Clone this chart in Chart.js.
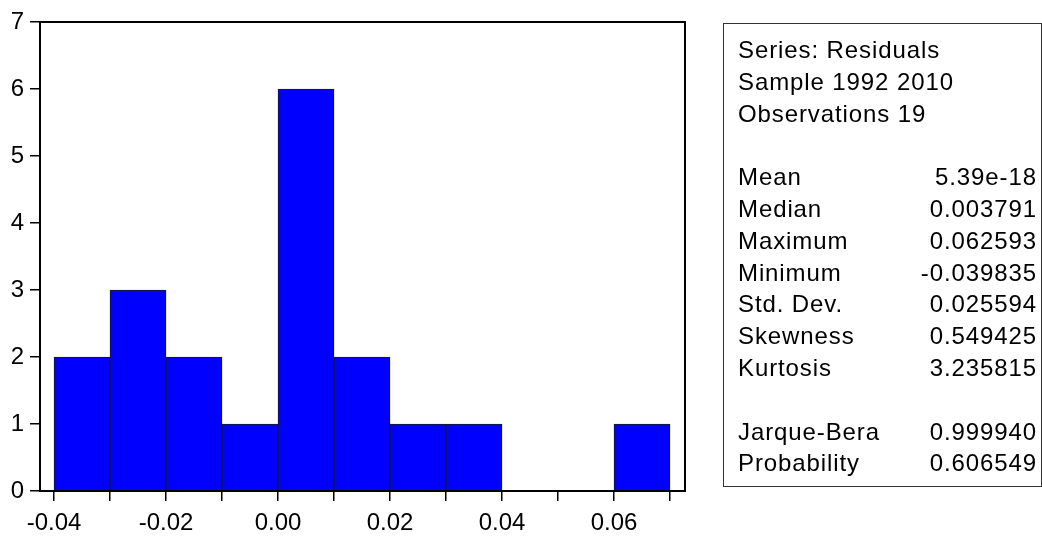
<!DOCTYPE html>
<html>
<head>
<meta charset="utf-8">
<script src="https://cdn.jsdelivr.net/npm/chart.js@4"></script>
<style>
  html, body { margin: 0; padding: 0; background: #fff; }
  #wrap { position: relative; width: 1042px; height: 536px; overflow: hidden; }
  #chart { position: absolute; left: 0; top: 0; }
  #stats {
    position: absolute; left: 723px; top: 23px; width: 319px; height: 464px;
    box-sizing: border-box; border: 1px solid #333; padding: 10px 4px 0 14px;
    font-family: "Liberation Sans", Arial, Helvetica, sans-serif; font-size: 24px; color: #000;
    letter-spacing: 0.9px;
  }
  #stats .row { display: flex; justify-content: space-between; height: 31.8px; line-height: 31.8px; white-space: nowrap; }
</style>
</head>
<body>
<div id="wrap">
  <canvas id="chart" width="1042" height="536"></canvas>
  <div id="stats"></div>
</div>
<script>
// histogram bins (left edges) and counts
const binStarts = [-0.04, -0.03, -0.02, -0.01, 0.00, 0.01, 0.02, 0.03, 0.04, 0.05, 0.06];
const binWidth = 0.01;
const counts = [2, 3, 2, 1, 6, 2, 1, 1, 0, 0, 1];

// descriptive statistics box
const headerLines = ['Series: Residuals', 'Sample 1992 2010', 'Observations 19'];
const statNames = ['Mean', 'Median', 'Maximum', 'Minimum', 'Std. Dev.', 'Skewness', 'Kurtosis'];
const statValues = ['5.39e-18', '0.003791', '0.062593', '-0.039835', '0.025594', '0.549425', '3.235815'];
const testNames = ['Jarque-Bera', 'Probability'];
const testValues = ['0.999940', '0.606549'];

const FONT = '"Liberation Sans", Arial, Helvetica, sans-serif';

function addRow(box, left, right) {
    const row = document.createElement('div');
    row.className = 'row';
    const a = document.createElement('span');
    a.textContent = left;
    const b = document.createElement('span');
    b.textContent = right || '';
    row.appendChild(a);
    row.appendChild(b);
    box.appendChild(row);
}

const box = document.getElementById('stats');
headerLines.forEach(t => addRow(box, t));
addRow(box, '\u00a0');
statNames.forEach((t, i) => addRow(box, t, statValues[i]));
addRow(box, '\u00a0');
testNames.forEach((t, i) => addRow(box, t, testValues[i]));

// frame around the plot area
const framePlugin = {
    id: 'frame',
    afterDraw(chart) {
        const a = chart.chartArea;
        const ctx = chart.ctx;
        ctx.save();
        ctx.strokeStyle = '#000';
        ctx.lineWidth = 2;
        ctx.strokeRect(a.left, a.top, a.right - a.left, a.bottom - a.top);
        ctx.restore();
    }
};

const points = binStarts.map((s, i) => ({ x: s + binWidth / 2, y: counts[i] }));

new Chart(document.getElementById('chart').getContext('2d'), {
    type: 'bar',
    data: {
        datasets: [{
            data: points,
            backgroundColor: '#0000FF',
            borderColor: '#1a1a1a',
            borderWidth: 1,
            barPercentage: 1,
            categoryPercentage: 1
        }]
    },
    options: {
        responsive: false,
        animation: false,
        layout: { padding: { left: 0, top: 22, right: 357, bottom: 0 } },
        plugins: { legend: { display: false }, tooltip: { enabled: false } },
        scales: {
            x: {
                type: 'linear',
                min: -0.0425,
                max: 0.07268,
                offset: false,
                afterFit(scale) { scale.height = 45; },
                grid: { offset: false, drawOnChartArea: false, drawTicks: true, tickLength: 10, color: '#000', lineWidth: 1.5 },
                border: { display: true, color: '#000', width: 2 },
                ticks: {
                    stepSize: 0.01,
                    includeBounds: false,
                    autoSkip: false,
                    maxRotation: 0,
                    padding: 8,
                    color: '#000',
                    font: { family: FONT, size: 24 },
                    callback: v => (Math.round(v * 100) % 2 === 0 ? (Math.round(v * 100) / 100).toFixed(2) : '')
                }
            },
            y: {
                min: 0,
                max: 7,
                afterFit(scale) { scale.width = 40; },
                grid: { drawOnChartArea: false, drawTicks: true, tickLength: 10, color: '#000', lineWidth: 1.5 },
                border: { display: true, color: '#000', width: 2 },
                ticks: {
                    stepSize: 1,
                    padding: 6,
                    color: '#000',
                    font: { family: FONT, size: 24 }
                }
            }
        }
    },
    plugins: [framePlugin]
});
</script>
</body>
</html>
